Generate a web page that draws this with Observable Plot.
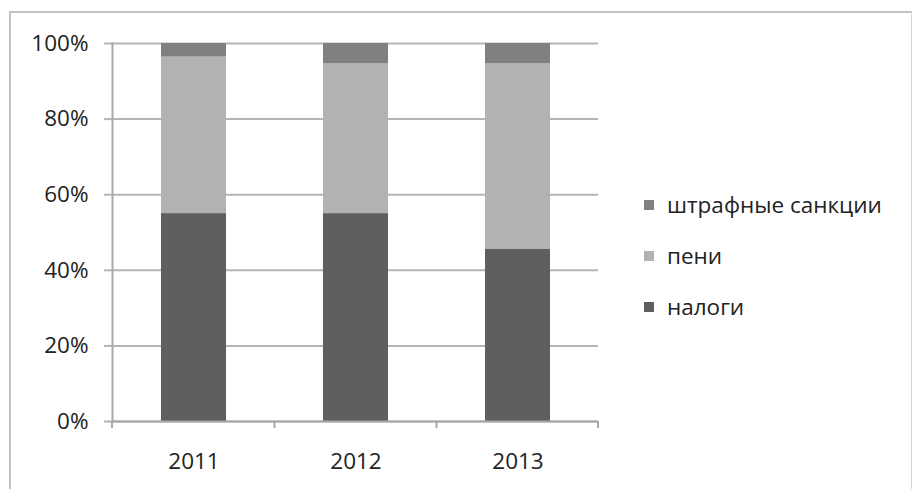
<!DOCTYPE html>
<html><head><meta charset="utf-8">
<script src="https://cdn.jsdelivr.net/npm/d3@7"></script>
<script src="https://cdn.jsdelivr.net/npm/@observablehq/plot@0.6"></script>
<style>
html,body{margin:0;padding:0;background:#fff;}
#wrap{position:relative;width:912px;height:489px;overflow:hidden;font-family:"Open Sans",sans-serif;}
#frame{position:absolute;left:9px;top:11px;width:900px;height:500px;border-left:2px solid #c2c2c2;border-top:2px solid #c2c2c2;border-right:1px solid #d8d8d8;}
#chart{position:absolute;left:0;top:0;}
#legend{position:absolute;left:644px;top:179px;font-size:22.5px;color:#222;}
#legend .item{display:flex;align-items:center;height:51px;}
#legend .sw{width:10px;height:10px;margin-right:13px;}
</style>
</head><body>
<div id="wrap"><div id="frame"></div><div id="chart"></div><div id="legend"></div></div>
<script>
const years = ["2011", "2012", "2013"];
const seriesNames = ["налоги", "пени", "штрафные санкции"];
const nalogi = [55.0, 55.0, 45.5];
const peni = [41.4, 39.6, 49.1];
const shtraf = [3.6, 5.4, 5.4];
const yTicks = [0, 20, 40, 60, 80, 100];
const yTickLabels = ["0%", "20%", "40%", "60%", "80%", "100%"];
const colors = ["#5f5f5f", "#b2b2b2", "#808080"];

const seriesValues = [nalogi, peni, shtraf];
const data = [];
years.forEach((yr, i) => seriesNames.forEach((s, j) => data.push({year: yr, series: s, value: seriesValues[j][i]})));

const W = 912, H = 489;
const mL = 112, mR = 314, mT = 43, mB = 68;

function xBoundaryTicks(index, scales, values, dimensions) {
  const x = scales.x;
  const centers = years.map(y => x(y));
  const bw = typeof x.bandwidth === "function" ? x.bandwidth() : x.bandwidth;
  const c = centers.map(v => v + bw / 2);
  const left = dimensions.marginLeft, right = dimensions.width - dimensions.marginRight;
  const bounds = [left, ...c.slice(0, -1).map((v, i) => (v + c[i + 1]) / 2), right];
  const y0 = dimensions.height - dimensions.marginBottom;
  const g = d3.create("svg:g").attr("stroke", "#a8a8a8").attr("stroke-width", 2);
  bounds.forEach(b => g.append("line").attr("x1", b).attr("x2", b).attr("y1", y0).attr("y2", y0 + 7));
  return g.node();
}

const chart = Plot.plot({
  width: W, height: H,
  marginLeft: mL, marginRight: mR, marginTop: mT, marginBottom: mB,
  style: {fontSize: "22.5px", fontFamily: "'Open Sans', sans-serif", color: "#222", background: "transparent"},
  x: {domain: years, paddingInner: 0.6, paddingOuter: 0.3, label: null},
  y: {domain: [0, 100], label: null},
  color: {domain: seriesNames, range: colors},
  marks: [
    Plot.gridY(yTicks, {stroke: "#b5b5b5", strokeOpacity: 1, strokeWidth: 2}),
    Plot.axisY(yTicks, {tickSize: 8, tickPadding: 16, stroke: "#b5b5b5", strokeWidth: 2, tickFormat: (d) => yTickLabels[yTicks.indexOf(d)], label: null}),
    Plot.barY(data, {x: "year", y: "value", fill: "series", order: seriesNames}),
    Plot.frame({anchor: "left", stroke: "#a8a8a8", strokeWidth: 2}),
    Plot.ruleY([0], {stroke: "#a8a8a8", strokeWidth: 2}),
    xBoundaryTicks,
    Plot.axisX({tickSize: 0, tickPadding: 32, label: null})
  ]
});
document.getElementById("chart").appendChild(chart);

const legend = document.getElementById("legend");
[2, 1, 0].forEach(j => {
  const it = document.createElement("div"); it.className = "item";
  const sw = document.createElement("span"); sw.className = "sw"; sw.style.background = colors[j];
  const t = document.createElement("span"); t.textContent = seriesNames[j];
  it.appendChild(sw); it.appendChild(t); legend.appendChild(it);
});
</script>
</body></html>
